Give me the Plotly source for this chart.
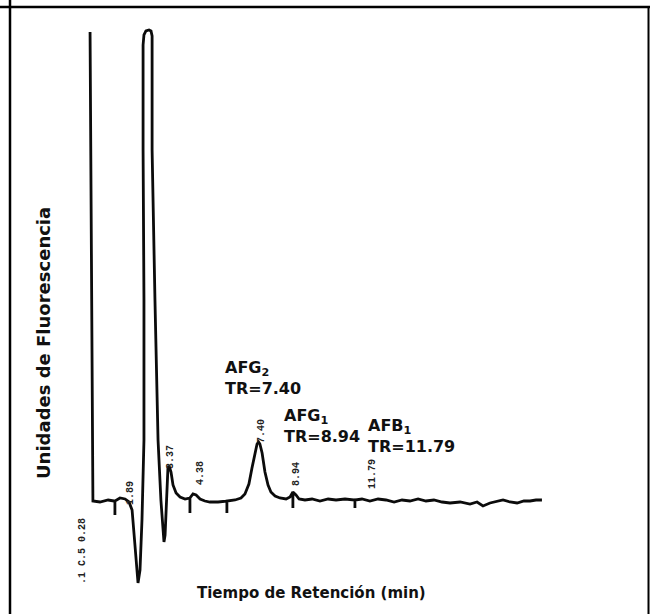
import plotly.graph_objects as go

# Chromatogram trace: retention time (min) vs fluorescence signal (arbitrary units)
time_min = [
    -0.27, -0.23, -0.14, 0.18, 0.55, 0.82, 0.86, 0.86, 0.86, 1.09, 1.32, 1.50,
    1.64, 1.77, 1.91, 2.00, 2.09, 2.18, 2.18, 2.14, 2.14, 2.18, 2.27, 2.41,
    2.50, 2.55, 2.55, 2.68, 2.77, 2.82, 2.95, 3.09, 3.14, 3.23, 3.27, 3.32,
    3.41, 3.50, 3.64, 3.82, 4.05, 4.27, 4.27, 4.27, 4.41, 4.55, 4.73, 4.95,
    5.18, 5.55, 5.95, 5.95, 5.95, 6.32, 6.59, 6.77, 6.95, 7.09, 7.23, 7.32,
    7.39, 7.45, 7.55, 7.68, 7.82, 7.95, 8.14, 8.36, 8.64, 8.82, 8.95, 8.95,
    8.95, 9.09, 9.23, 9.50, 9.82, 10.18, 10.55, 10.91, 11.32, 11.77, 11.77,
    11.77, 12.09, 12.45, 12.82, 13.18, 13.55, 13.91, 14.27, 14.64, 15.00,
    15.36, 15.73, 16.09, 16.55, 17.00, 17.32, 17.59, 17.91, 18.23, 18.50,
    18.82, 19.14, 19.45, 19.73, 20.00, 20.27,
]
signal = [
    93.6, 68.0, -0.2, -0.4, 0.0, -0.2, -0.2, -3.0, -0.2, 0.4, 0.2, -0.4,
    -2.0, -9.0, -16.6, -14.0, -4.0, 12.0, 40.0, 70.0, 91.0, 93.0, 93.8, 94.0,
    93.8, 92.8, 70.0, 40.0, 24.0, 12.0, 0.0, -8.4, -7.0, 2.0, 6.4, 6.8,
    5.6, 3.0, 1.4, 0.6, 0.2, 0.4, -2.6, 0.4, 1.2, 1.0, 0.2, -0.2,
    -0.4, -0.4, -0.2, -2.6, -0.2, 0.0, 0.4, 1.2, 3.2, 6.4, 9.6, 11.2,
    11.6, 11.2, 9.4, 5.6, 3.0, 1.6, 0.8, 0.4, 0.2, 0.6, 1.6, -1.6,
    1.6, 1.0, 0.2, 0.0, 0.2, -0.2, 0.2, 0.0, 0.2, 0.0, -1.6,
    0.0, 0.2, -0.2, 0.2, 0.0, -0.4, 0.0, -0.2, 0.2, -0.2,
    0.0, -0.4, -0.6, -0.4, -0.8, -0.4, -1.2, -0.6, -0.2, 0.0,
    -0.4, -0.6, -0.2, -0.2, 0.0, 0.0,
]

# Integrator retention-time prints: text, x (min), y (signal)
rt_labels = ["1.89", "3.37", "4.38", "7.40", "8.94", "11.79", ".1 C.5 0.28"]
rt_x = [1.55, 3.36, 4.73, 7.50, 9.09, 12.55, -0.64]
rt_y = [1.4, 8.6, 5.4, 13.8, 5.2, 5.2, -10.2]

# Identified aflatoxin peaks: name and retention time, anchored at (min, signal)
peak_names = ["AFG<sub>2</sub>", "AFG<sub>1</sub>", "AFB<sub>1</sub>"]
peak_tr = ["TR=7.40", "TR=8.94", "TR=11.79"]
peak_lx = [5.77, 8.45, 12.27]
peak_ly = [24.4, 14.8, 12.8]

x_title = "Tiempo de Retención (min)"
y_title = "Unidades de Fluorescencia"

W, H = 650, 614
X_RANGE = [-96 / 22, 554 / 22]
Y_RANGE = [-114 / 5, 100]

fig = go.Figure()
fig.add_trace(go.Scatter(
    x=time_min, y=signal, mode="lines",
    line=dict(color="#0b0b0b", width=2.8),
    hoverinfo="skip", showlegend=False,
))

bold = dict(family="DejaVu Sans", color="#111111", weight="bold")
annotations = []
for txt, x, y in zip(rt_labels, rt_x, rt_y):
    annotations.append(dict(
        x=x, y=y, xref="x", yref="y", text=txt, showarrow=False,
        textangle=-90, xanchor="center", yanchor="middle",
        font=dict(family="Liberation Mono", size=10, color="#222222",
                  weight="bold"),
    ))
for name, tr, x, y in zip(peak_names, peak_tr, peak_lx, peak_ly):
    annotations.append(dict(
        x=x, y=y, xref="x", yref="y", text=name + "<br>" + tr,
        showarrow=False, align="left", xanchor="left", yanchor="middle",
        font=dict(size=16, **bold),
    ))
annotations.append(dict(
    x=311 / W, y=1 - 593 / H, xref="paper", yref="paper", text=x_title,
    showarrow=False, xanchor="center", yanchor="middle",
    font=dict(size=15, **bold),
))
annotations.append(dict(
    x=43 / W, y=1 - 343 / H, xref="paper", yref="paper", text=y_title,
    showarrow=False, textangle=-90, xanchor="center", yanchor="middle",
    font=dict(size=18, **bold),
))

# Frame lines around the figure cell
frame = [
    dict(type="line", xref="paper", yref="paper", x0=0, x1=1,
         y0=1 - 7 / H, y1=1 - 7 / H, line=dict(color="black", width=2.5)),
    dict(type="line", xref="paper", yref="paper", x0=10 / W, x1=10 / W,
         y0=0, y1=1, line=dict(color="black", width=2.5)),
    dict(type="line", xref="paper", yref="paper", x0=648.5 / W, x1=648.5 / W,
         y0=0, y1=1 - 7 / H, line=dict(color="black", width=2)),
]

fig.update_layout(
    width=W, height=H, margin=dict(l=0, r=0, t=0, b=0),
    paper_bgcolor="white", plot_bgcolor="white",
    xaxis=dict(range=X_RANGE, visible=False, fixedrange=True),
    yaxis=dict(range=Y_RANGE, visible=False, fixedrange=True),
    annotations=annotations, shapes=frame,
)

fig.write_html("out.html")
